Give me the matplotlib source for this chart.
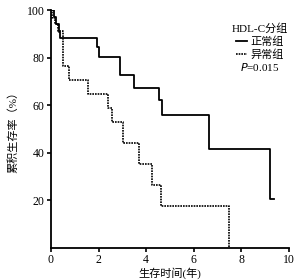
import matplotlib
matplotlib.use('Agg')
from matplotlib import pyplot as plt
from matplotlib.lines import Line2D

plt.rcParams['font.family'] = ['Liberation Serif', 'Noto Sans CJK SC']

# Kaplan-Meier step curves (time in years, survival in %)
normal_t = [0, 0.12, 0.22, 0.32, 0.38, 1.92, 2.0, 2.9, 3.47, 4.52, 4.66, 6.62, 9.19, 9.36]
normal_s = [100, 97, 94, 91, 88.2, 84.5, 80.3, 72.6, 67.4, 62.1, 55.8, 41.8, 20.7, 20.7]
abnormal_t = [0, 0.05, 0.15, 0.28, 0.49, 0.77, 1.57, 2.41, 2.55, 3.04, 3.68, 4.24, 4.63, 7.49]
abnormal_s = [100, 96.5, 94.1, 91.2, 76.4, 70.6, 64.7, 58.8, 52.9, 44.1, 35.3, 26.5, 17.6, 0]

x_ticks = [0, 2, 4, 6, 8, 10]
y_ticks = [20, 40, 60, 80, 100]

fig = plt.figure(figsize=(3.05, 2.80), dpi=100)
ax = fig.add_axes([0.167, 0.114, 0.781, 0.850])

ax.step(normal_t, normal_s, where='post', color='black', lw=1.3)
ax.step(abnormal_t, abnormal_s, where='post', color='black', lw=1.2, ls=(0, (1, 0.6)))

ax.set_xlim(0, 10)
ax.set_ylim(0, 100)
ax.set_xticks(x_ticks)
ax.set_yticks(y_ticks)
ax.tick_params(direction='out', length=3, width=1.2, labelsize=8.5, pad=1.5)
for s in ['top', 'right']:
    ax.spines[s].set_visible(False)
for s in ['left', 'bottom']:
    ax.spines[s].set_linewidth(1.3)

ax.set_xlabel('生存时间(年)', fontsize=8, labelpad=1)
ax.set_ylabel('累积生存率（%）', fontsize=8, labelpad=6)

handles = [Line2D([], [], color='black', lw=1.3),
           Line2D([], [], color='black', lw=1.2, ls=(0, (1, 0.6)))]
leg = ax.legend(handles, ['正常组', '异常组'], title='HDL-C分组', frameon=False,
                fontsize=8, title_fontsize=8, handlelength=1.0, handletextpad=0.3,
                labelspacing=0.25, borderpad=0, loc='upper right',
                bbox_to_anchor=(1.02, 0.97))
ax.text(0.794, 0.76, '$\\it{P}$=0.015', transform=ax.transAxes, fontsize=8,
        ha='left', va='center')

fig.savefig('out.png', dpi=100)
